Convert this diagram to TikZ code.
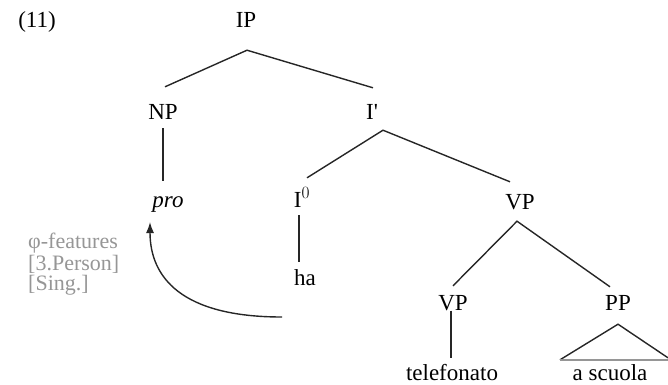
\documentclass[tikz,border=0pt]{standalone}
\usepackage{fontspec}
\setmainfont{Liberation Serif}
\usetikzlibrary{calc,arrows.meta}
\definecolor{featgray}{RGB}{150,150,150}
\begin{document}
\begin{tikzpicture}[x=1pt,y=-1pt,
  cat/.style={inner sep=0pt,text height=15pt,text depth=0pt,font=\fontsize{23}{27}\selectfont},
  feat/.style={inner sep=0pt,anchor=west,text=featgray,font=\fontsize{22}{26}\selectfont},
  edge/.style={line width=1.4pt,black!85}]
\useasboundingbox (0,0) rectangle (668,384);
\node[cat] (ex) at (37,20) {(11)};
\node[cat] (IP) at (246,20) {IP};
\node[cat] (NP) at (163,112) {NP};
\node[cat] (Ibar) at (372,112) {I\textquotesingle};
\node[cat] (pro) at (168,200) {\itshape pro};
\node[cat] (I0) at (302,200) {I$^0$};
\node[cat] (VP) at (520,202) {VP};
\node[cat] (ha) at (305,278) {ha};
\node[cat] (VPl) at (453,303) {VP};
\node[cat] (PP) at (618,303) {PP};
\node[cat] (tel) at (452,373) {telefonato};
\node[cat] (asc) at (610,373) {a scuola};
\node[feat] (f1) at (28,243) {φ-features};
\node[feat] (f2) at (28,264) {[3.Person]};
\node[feat] (f3) at (28,285) {[Sing.]};
% branches
\draw[edge] ($(NP.north)+(2,-17.5)$) -- ($(IP.south)+(1,22.5)$) -- ($(Ibar.north)+(1,-16.5)$);
\draw[edge] ($(I0.north)+(5,-14.5)$) -- ($(Ibar.south)+(11,10.5)$) -- ($(VP.north)+(-10,-12.5)$);
\draw[edge] ($(VPl.north)+(0,-9.5)$) -- ($(VP.south)+(-3,11.5)$) -- ($(PP.north)+(-8,-8.5)$);
\draw[edge] ($(NP.south)+(0,8.5)$) -- ($(pro.north)+(-5,-11.5)$);
\draw[edge] ($(I0.south)+(-3,7.5)$) -- ($(ha.north)+(-6,-8.5)$);
\draw[edge] ($(VPl.south)+(-2,0)$) -- ($(tel.north)+(-1,-7.5)$);
% triangle
\coordinate (tl) at ($(asc.north)+(-50,-5.5)$);
\coordinate (tr) at ($(asc.north)+(58,-7.5)$);
\draw[edge] (tl) -- ($(PP.south)+(0,13.5)$) -- (tr);
\draw[line width=1.8pt,featgray] (tl) -- ($(asc.north)+(58,-5.5)$);
% arrow
\draw[edge,-{Latex[length=11pt,width=8pt]}] ($(ha)+(-23,39)$) .. controls ($(ha)+(-124,39)$) and ($(pro)+(-18,77)$) .. ($(pro)+(-18,22)$);
\end{tikzpicture}
\end{document}
